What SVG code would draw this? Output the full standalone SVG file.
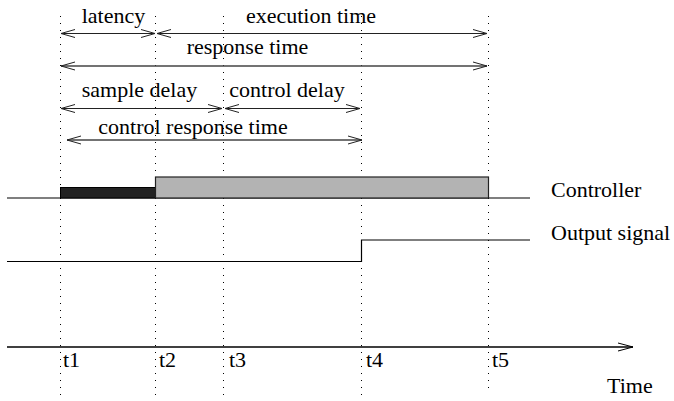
<svg xmlns="http://www.w3.org/2000/svg" width="674" height="401" viewBox="0 0 674 401">
  <style>
    text { font-family: "Liberation Serif", "DejaVu Serif", "Times New Roman", serif; font-size: 22px; fill: #000; }
    .mid { text-anchor: middle; }
    .guide { stroke: #000; stroke-width: 1; stroke-dasharray: 1 6; fill: none; }
    .span { stroke: #222; stroke-width: 1; fill: none; marker-start: url(#ah); marker-end: url(#ah); }
    .span.wide { stroke: #444; stroke-width: 1.6; }
    .trace { stroke: #000; stroke-width: 1.2; fill: none; }
  </style>
  <defs>
    <marker id="ah" viewBox="-16 -6 17 12" refX="0" refY="0" markerWidth="17" markerHeight="12" markerUnits="userSpaceOnUse" orient="auto-start-reverse">
      <path d="M-14,-4 L0,0 L-14,4" fill="none" stroke="#222" stroke-width="1"/>
    </marker>
    <marker id="axisHead" viewBox="-16 -6 17 12" refX="0" refY="0" markerWidth="17" markerHeight="12" markerUnits="userSpaceOnUse" orient="auto">
      <path d="M-15,-4 L0,0 L-15,4" fill="none" stroke="#000" stroke-width="1"/>
    </marker>
  </defs>

  <!-- dotted time marks t1..t5 -->
  <g id="guides">
    <line class="guide" x1="60.5" y1="16" x2="60.5" y2="397"/>
    <line class="guide" x1="155.5" y1="16" x2="155.5" y2="397"/>
    <line class="guide" x1="223.5" y1="16" x2="223.5" y2="397"/>
    <line class="guide" x1="361.5" y1="16" x2="361.5" y2="397"/>
    <line class="guide" x1="488.5" y1="16" x2="488.5" y2="390"/>
  </g>

  <!-- interval arrows -->
  <g id="connectors">
    <line class="span" x1="61" y1="33.5" x2="155" y2="33.5"/>
    <line class="span" x1="157" y1="33.5" x2="487" y2="33.5"/>
    <line class="span wide" x1="61" y1="66" x2="487" y2="66"/>
    <line class="span" x1="61" y1="108.5" x2="222" y2="108.5"/>
    <line class="span" x1="225" y1="108.5" x2="360" y2="108.5"/>
    <line class="span wide" x1="67" y1="140" x2="362" y2="140"/>
  </g>

  <g id="labels" font-family="Liberation Serif, DejaVu Serif, serif">
    <text class="mid" x="113.5" y="23">latency</text>
    <text class="mid" x="311" y="23">execution time</text>
    <text class="mid" x="247.5" y="54">response time</text>
    <text class="mid" x="139.5" y="97">sample delay</text>
    <text class="mid" x="287" y="97">control delay</text>
    <text class="mid" x="193" y="134">control response time</text>
  </g>

  <!-- controller activity -->
  <g id="controller">
    <line class="trace" x1="7" y1="198" x2="530" y2="198"/>
    <rect x="60.5" y="187.5" width="95" height="10.5" fill="#222" stroke="#000" stroke-width="1"/>
    <rect x="155.5" y="177" width="333" height="21" fill="#b3b3b3" stroke="#222" stroke-width="1.2"/>
    <text x="551" y="197">Controller</text>
  </g>

  <!-- output signal step -->
  <g id="output-signal">
    <polyline class="trace" points="7,261.5 361.5,261.5 361.5,240 530,240"/>
    <text x="551" y="240">Output signal</text>
  </g>

  <!-- time axis -->
  <g id="time-axis">
    <line x1="7" y1="347" x2="633" y2="347" stroke="#000" stroke-width="1.3" marker-end="url(#axisHead)"/>
    <text x="63" y="367">t1</text>
    <text x="159" y="367">t2</text>
    <text x="229" y="367">t3</text>
    <text x="366" y="367">t4</text>
    <text x="492" y="367">t5</text>
    <text x="607" y="393">Time</text>
  </g>
</svg>
